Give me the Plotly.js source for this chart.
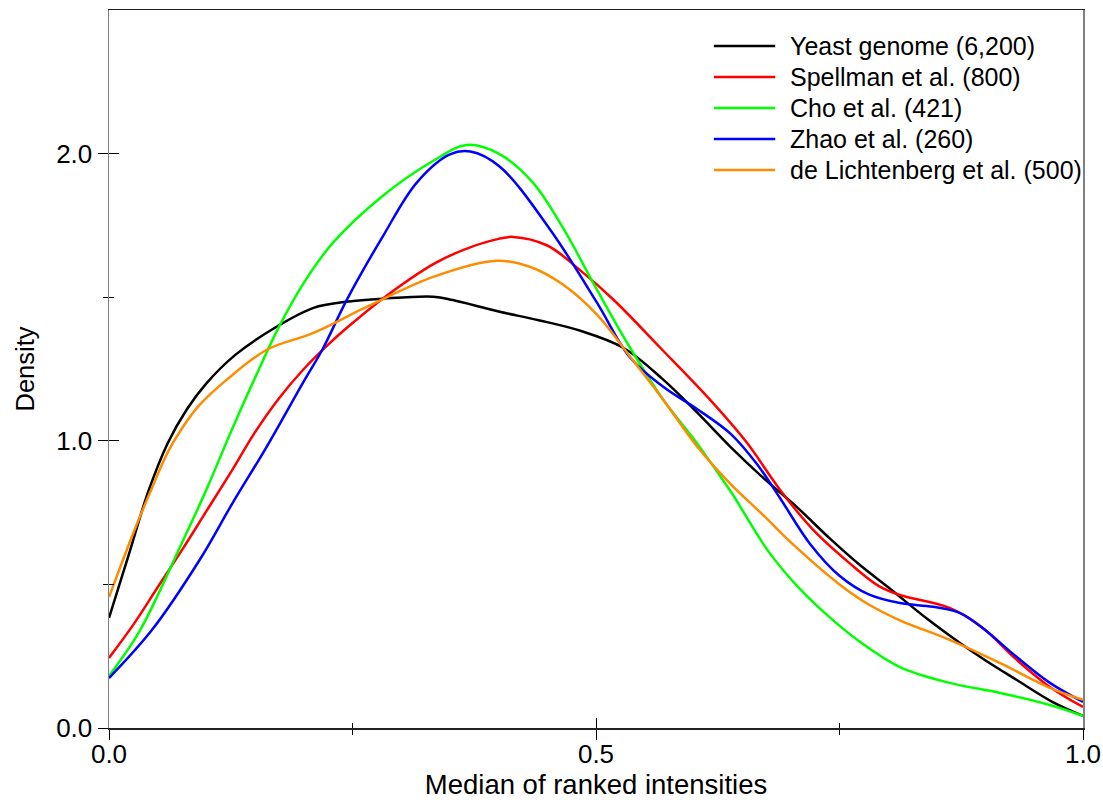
<!DOCTYPE html>
<html>
<head>
<meta charset="utf-8">
<script src="https://cdn.plot.ly/plotly-3.0.1.min.js"></script>
<style>html,body{margin:0;padding:0;background:#fff}#chart{width:1103px;height:800px}</style>
</head>
<body>
<div id="chart"></div>
<script>
// Series names and colours
const seriesNames = ["Yeast genome (6,200)", "Spellman et al. (800)", "Cho et al. (421)", "Zhao et al. (260)", "de Lichtenberg et al. (500)"];
const seriesColors = ["#000000", "#ff0000", "#00ff00", "#0000ff", "#ff8c00"];

// Yeast genome (black)
const yeastX = [0, 0.02, 0.04, 0.06, 0.08, 0.10, 0.13, 0.172, 0.21, 0.244, 0.281, 0.333, 0.353, 0.40, 0.441, 0.484, 0.528, 0.569, 0.604, 0.638, 0.672, 0.706, 0.74, 0.77, 0.80, 0.84, 0.874, 0.90, 0.932, 0.969, 1.0];
const yeastY = [0.383, 0.60, 0.82, 0.99, 1.11, 1.20, 1.30, 1.397, 1.463, 1.484, 1.495, 1.502, 1.49, 1.45, 1.42, 1.383, 1.324, 1.213, 1.098, 0.979, 0.87, 0.77, 0.66, 0.57, 0.49, 0.38, 0.295, 0.235, 0.167, 0.09, 0.042];

// Spellman et al. (red)
const spellX = [0, 0.025, 0.05, 0.075, 0.10, 0.125, 0.15, 0.175, 0.20, 0.225, 0.25, 0.281, 0.333, 0.364, 0.40, 0.415, 0.45, 0.483, 0.518, 0.566, 0.62, 0.655, 0.689, 0.723, 0.76, 0.79, 0.812, 0.863, 0.897, 0.932, 0.966, 1.0];
const spellY = [0.244, 0.36, 0.49, 0.62, 0.755, 0.89, 1.03, 1.15, 1.25, 1.335, 1.41, 1.495, 1.615, 1.665, 1.703, 1.71, 1.68, 1.596, 1.491, 1.324, 1.132, 0.993, 0.829, 0.69, 0.575, 0.495, 0.463, 0.418, 0.348, 0.237, 0.143, 0.073];

// Cho et al. (green)
const choX = [0, 0.032, 0.073, 0.10, 0.125, 0.15, 0.175, 0.20, 0.23, 0.28, 0.333, 0.367, 0.40, 0.435, 0.466, 0.501, 0.535, 0.569, 0.604, 0.638, 0.677, 0.709, 0.74, 0.771, 0.812, 0.863, 0.915, 0.966, 1.0];
const choY = [0.181, 0.341, 0.631, 0.83, 1.03, 1.22, 1.40, 1.55, 1.69, 1.85, 1.975, 2.03, 2.0, 1.9, 1.742, 1.526, 1.324, 1.143, 0.99, 0.825, 0.615, 0.485, 0.385, 0.3, 0.212, 0.157, 0.122, 0.08, 0.042];

// Zhao et al. (blue)
const zhaoX = [0, 0.044, 0.093, 0.127, 0.162, 0.201, 0.219, 0.244, 0.281, 0.316, 0.35, 0.371, 0.401, 0.453, 0.501, 0.535, 0.569, 0.604, 0.638, 0.665, 0.689, 0.72, 0.75, 0.78, 0.812, 0.846, 0.874, 0.897, 0.932, 0.966, 1.0];
const zhaoY = [0.174, 0.341, 0.585, 0.784, 0.98, 1.213, 1.317, 1.49, 1.711, 1.899, 1.997, 2.007, 1.955, 1.735, 1.481, 1.29, 1.188, 1.11, 1.025, 0.92, 0.80, 0.64, 0.53, 0.465, 0.435, 0.422, 0.4, 0.348, 0.247, 0.157, 0.091];

// de Lichtenberg et al. (orange)
const lichX = [0, 0.025, 0.042, 0.06, 0.076, 0.093, 0.121, 0.162, 0.21, 0.265, 0.333, 0.398, 0.432, 0.466, 0.501, 0.535, 0.569, 0.604, 0.638, 0.672, 0.702, 0.75, 0.78, 0.812, 0.863, 0.915, 0.966, 1.0];
const lichY = [0.456, 0.679, 0.819, 0.958, 1.049, 1.125, 1.213, 1.317, 1.376, 1.467, 1.571, 1.627, 1.606, 1.544, 1.439, 1.293, 1.143, 0.979, 0.85, 0.74, 0.64, 0.50, 0.43, 0.375, 0.307, 0.226, 0.14, 0.098];

// Axis ticks and titles
const xTickVals = [0, 0.5, 1.0];
const xTickText = ["0.0", "0.5", "1.0"];
const xMinorVals = [0.25, 0.75];
const yTickVals = [0, 1.0, 2.0];
const yTickText = ["0.0", "1.0", "2.0"];
const yMinorVals = [0.5, 1.5];
const xTitle = "Median of ranked intensities";
const yTitle = "Density";

const xs = [yeastX, spellX, choX, zhaoX, lichX];
const ys = [yeastY, spellY, choY, zhaoY, lichY];

const traces = seriesNames.map((name, i) => ({
  type: "scatter", mode: "lines", name: name,
  x: xs[i], y: ys[i], showlegend: false,
  line: {color: seriesColors[i], width: 2.5, shape: "spline", smoothing: 1.0},
  xaxis: "x", yaxis: "y"
}));

// a transparent helper trace so the overlay (inside-tick) axes are drawn
traces.push({type: "scatter", mode: "lines", x: [0], y: [0], xaxis: "x2", yaxis: "y2",
  showlegend: false, hoverinfo: "skip", line: {color: "rgba(0,0,0,0)"}});

const font = "Liberation Sans, Arial, sans-serif";

// Legend built from the series names/colours (paper coordinates)
const legX0 = 0.621, legX1 = 0.684, legTextX = 0.697, legTop = 0.950, legStep = 0.0432;
const legendShapes = seriesNames.map((n, i) => ({
  type: "line", xref: "paper", yref: "paper",
  x0: legX0, x1: legX1, y0: legTop - i * legStep, y1: legTop - i * legStep,
  line: {color: seriesColors[i], width: 2.5}
}));
const legendTexts = seriesNames.map((n, i) => ({
  xref: "paper", yref: "paper", x: legTextX, y: legTop - i * legStep,
  xanchor: "left", yanchor: "middle", showarrow: false, text: n,
  font: {family: font, size: 25, color: "#000"}
}));

const layout = {
  width: 1103, height: 800,
  margin: {l: 109, r: 20, t: 10, b: 72},
  paper_bgcolor: "#ffffff", plot_bgcolor: "#ffffff",
  font: {family: font, color: "#000", size: 25},
  showlegend: false,
  shapes: legendShapes,
  annotations: legendTexts,
  xaxis: {
    range: [0, 1], tickvals: xTickVals, ticktext: xTickText,
    ticks: "outside", ticklen: 10, tickwidth: 1, tickcolor: "#000",
    ticklabelstandoff: -8,
    showline: true, linecolor: "#222", linewidth: 1.5, mirror: true,
    showgrid: false, zeroline: false,
    tickfont: {family: font, size: 26, color: "#000"},
    title: {text: xTitle, font: {family: font, size: 27.5, color: "#000"}, standoff: 6},
    minor: {tickvals: xMinorVals, ticks: "outside", ticklen: 5, tickcolor: "#000", showgrid: false}
  },
  yaxis: {
    range: [0, 2.5], tickvals: yTickVals, ticktext: yTickText,
    ticks: "outside", ticklen: 10, tickwidth: 1, tickcolor: "#000",
    showline: true, linecolor: "#808080", linewidth: 1.5, mirror: true,
    showgrid: false, zeroline: false,
    tickfont: {family: font, size: 26, color: "#000"},
    title: {text: yTitle, font: {family: font, size: 25.5, color: "#000"}, standoff: 14},
    minor: {tickvals: yMinorVals, ticks: "outside", ticklen: 5, tickcolor: "#000", showgrid: false}
  },
  xaxis2: {
    overlaying: "x", matches: "x", range: [0, 1], tickvals: xTickVals, showticklabels: false,
    ticks: "inside", ticklen: 10, tickwidth: 1, tickcolor: "#000",
    showline: false, showgrid: false, zeroline: false,
    minor: {tickvals: xMinorVals, ticks: "inside", ticklen: 5, tickcolor: "#000", showgrid: false}
  },
  yaxis2: {
    overlaying: "y", matches: "y", range: [0, 2.5], tickvals: yTickVals, showticklabels: false,
    ticks: "inside", ticklen: 10, tickwidth: 1, tickcolor: "#000",
    showline: false, showgrid: false, zeroline: false,
    minor: {tickvals: yMinorVals, ticks: "inside", ticklen: 5, tickcolor: "#000", showgrid: false}
  }
};

Plotly.newPlot("chart", traces, layout, {displayModeBar: false, staticPlot: true});
</script>
</body>
</html>
